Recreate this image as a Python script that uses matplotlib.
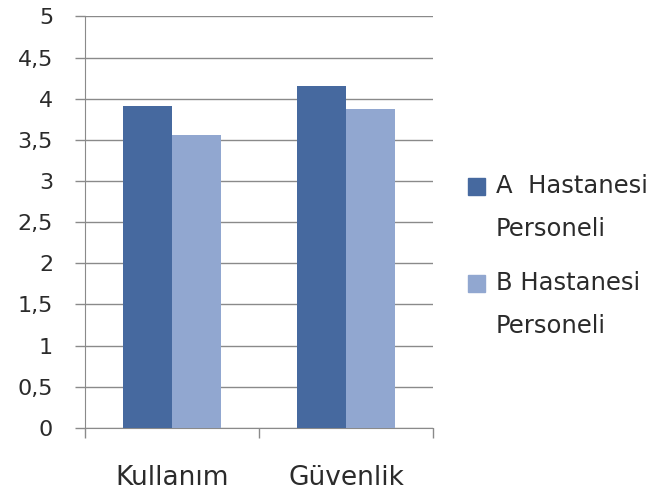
import matplotlib.pyplot as plt
from matplotlib.patches import Rectangle
from matplotlib.ticker import FixedLocator, FuncFormatter

categories = ["Kullanım", "Güvenlik"]
series_names = ["A  Hastanesi\nPersoneli", "B Hastanesi\nPersoneli"]
hospital_a = [3.91, 4.16]
hospital_b = [3.56, 3.88]
y_ticks = [0, 0.5, 1, 1.5, 2, 2.5, 3, 3.5, 4, 4.5, 5]

COLORS = ["#46699f", "#91a7d0"]
GRID = "#8a8a8a"
TEXT = "#2b2b2b"

fig = plt.figure(figsize=(6.59, 4.97), dpi=100)
ax = fig.add_axes([0.129, 0.139, 0.528, 0.828])

width = 0.28
x = list(range(len(categories)))
ax.bar([i - width / 2 for i in x], hospital_a, width, color=COLORS[0], zorder=3)
ax.bar([i + width / 2 for i in x], hospital_b, width, color=COLORS[1], zorder=3)

ax.set_xlim(-0.5, len(categories) - 0.5)
ax.set_ylim(0, 5)
ax.set_yticks(y_ticks)
ax.yaxis.set_major_formatter(FuncFormatter(lambda v, _: f"{v:g}".replace(".", ",")))
ax.grid(axis="y", color=GRID, linewidth=1, zorder=0)

# category boundaries as major ticks, labels on minor ticks
ax.xaxis.set_major_locator(FixedLocator([i - 0.5 for i in range(len(categories) + 1)]))
ax.xaxis.set_minor_locator(FixedLocator(x))
ax.set_xticklabels([], minor=False)
ax.set_xticklabels(categories, minor=True)
ax.tick_params(axis="x", which="major", length=7, color=GRID, width=1)
ax.tick_params(axis="x", which="minor", length=0, pad=27, labelsize=19, labelcolor=TEXT)
ax.tick_params(axis="y", length=7, color=GRID, width=1, pad=16, labelsize=16, labelcolor=TEXT)

for side in ["top", "right"]:
    ax.spines[side].set_visible(False)
for side in ["left", "bottom"]:
    ax.spines[side].set_color(GRID)

# legend drawn by hand to match the wrapped Excel-style entries
W, H = fig.get_size_inches() * fig.dpi
legend_rows = [(186, COLORS[0]), (283, COLORS[1])]
for (py, color), name in zip(legend_rows, series_names):
    first, second = name.split("\n")
    fig.patches.append(Rectangle((468 / W, 1 - (py + 8.5) / H), 17 / W, 17 / H,
                                 transform=fig.transFigure, color=color))
    fig.text(496 / W, 1 - py / H, first, fontsize=17.5, color=TEXT, va="center")
    fig.text(496 / W, 1 - (py + 43) / H, second, fontsize=17.5, color=TEXT, va="center")

fig.savefig("out.png", dpi=100)
